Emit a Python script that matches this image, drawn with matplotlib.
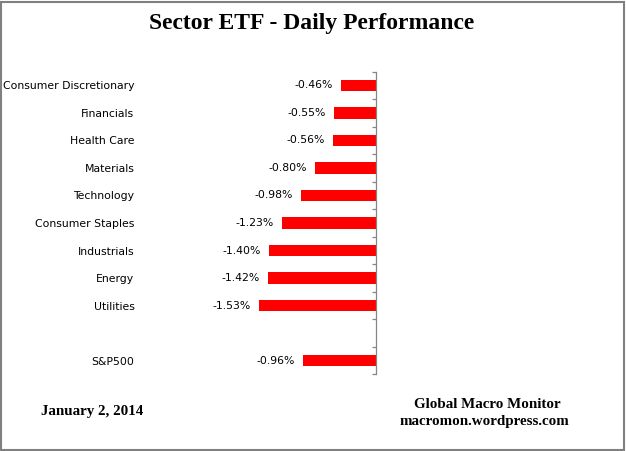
import matplotlib.pyplot as plt
import matplotlib.patches as patches
import numpy as np

sectors = ["Consumer Discretionary", "Financials", "Health Care", "Materials",
           "Technology", "Consumer Staples", "Industrials", "Energy", "Utilities"]
sector_vals = [-0.46, -0.55, -0.56, -0.80, -0.98, -1.23, -1.40, -1.42, -1.53]
bench_name = "S&P500"
bench_val = -0.96

# one empty slot between the sectors and the benchmark
labels = sectors + ["", bench_name]
values = sector_vals + [np.nan, bench_val]
ypos = np.arange(len(labels))

fig = plt.figure(figsize=(6.26, 4.51), dpi=100)
ax = fig.add_axes([140/626, 1-374.3/451, 236/626, (374.3-71.7)/451])

ax.barh(ypos, values, height=0.42, color='#ff0000', zorder=2)

ax.set_xlim(-236/76.3, 0)
ax.set_ylim(len(labels)-0.5, -0.5)

for s in ['left', 'top', 'bottom']:
    ax.spines[s].set_visible(False)
ax.spines['right'].set_color('#868686')
ax.spines['right'].set_linewidth(0.9)
ax.set_xticks([])

ax.set_yticks(ypos)
ax.set_yticklabels(labels, fontsize=7.8, family='DejaVu Sans')
ax.tick_params(axis='y', which='major', length=0, pad=4)
ax.set_yticks(np.arange(len(labels)+1)-0.5, minor=True)
ax.tick_params(axis='y', which='minor', left=False, right=True, direction='in',
               length=3.2, color='#868686', width=0.9)

for y, v in zip(ypos, values):
    if np.isnan(v):
        continue
    ax.annotate(f"{v:.2f}%", (v, y), xytext=(-5.8, 0), textcoords='offset points',
                ha='right', va='center', fontsize=7.8, family='DejaVu Sans')

fig.text(312/626, 1-24/451, "Sector ETF - Daily Performance", ha='center', va='center',
         fontsize=17, fontweight='bold', family='Liberation Serif')
fig.text(41/626, 1-411/451, "January 2, 2014", ha='left', va='center',
         fontsize=10.8, fontweight='bold', family='Liberation Serif')
fig.text(487/626, 1-405/451, "Global Macro Monitor", ha='center', va='center',
         fontsize=10.8, fontweight='bold', family='Liberation Serif')
fig.text(484/626, 1-422/451, "macromon.wordpress.com", ha='center', va='center',
         fontsize=10.8, fontweight='bold', family='Liberation Serif')

fig.patches.append(patches.Rectangle((0.5/626, 1.5/451), 623.5/626, 448/451,
                                     transform=fig.transFigure, fill=False,
                                     edgecolor='#808080', linewidth=1.5))

fig.savefig('out.png', dpi=100)
